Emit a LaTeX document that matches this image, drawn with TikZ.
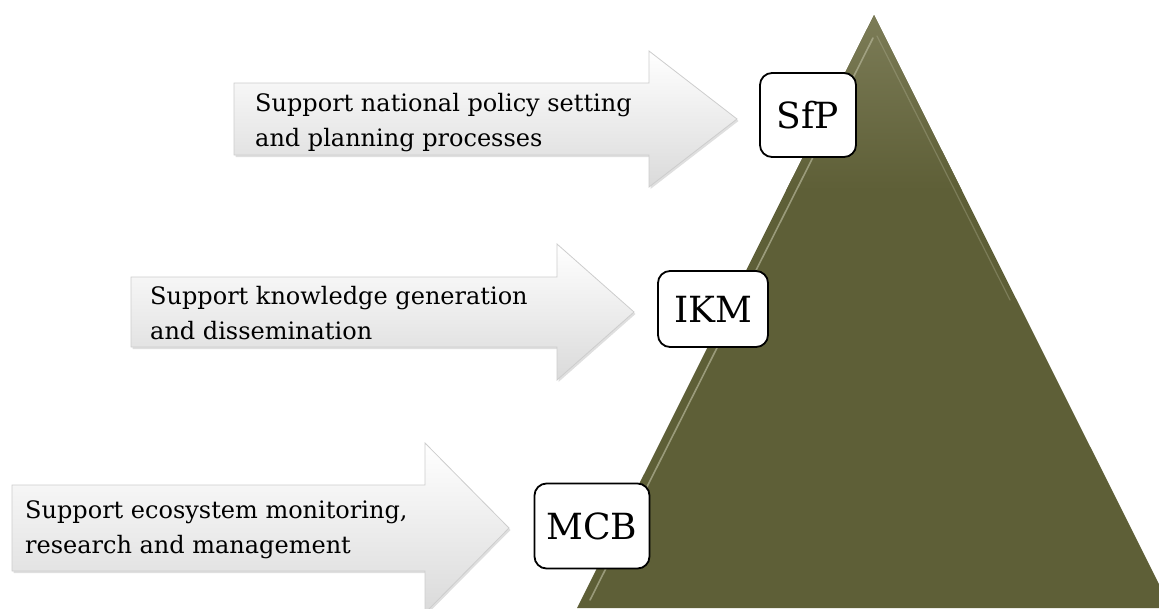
\documentclass[tikz,border=0pt]{standalone}
\usepackage{fontspec}
\setmainfont{DejaVu Serif}
\usetikzlibrary{positioning,shadows}

\definecolor{pyrbase}{HTML}{5E5F37}
\definecolor{pyrtop}{HTML}{7C7C57}
\definecolor{pyrhi}{HTML}{B4B497}
\definecolor{arrgray}{HTML}{DADADA}
\definecolor{arrline}{HTML}{CDCDCD}

\begin{document}
\begin{tikzpicture}[x=1pt,y=-1pt,
bigarrow/.style={
  top color=white,
  bottom color=arrgray,
  draw=arrline,
  line width=0.8pt,
  drop shadow={shadow xshift=1.5pt,shadow yshift=-2pt,opacity=0.25}
  },
label/.style={
  anchor=west,
  align=left,
  inner sep=0pt,
  font=\fontsize{24}{35}\selectfont
  },
tag/.style={
  draw,
  fill=white,
  rounded corners=12pt,
  line width=1.8pt,
  inner sep=0pt,
  font=\fontsize{36}{40}\selectfont
  },
]
\useasboundingbox (0,0) rectangle (1159,608);

% pyramid
\coordinate (apex) at (874,15);
\coordinate (baseL) at (577,608);
\coordinate (baseR) at (1171,608);
\fill[pyrbase] (apex) -- (baseL) -- (baseR) -- cycle;
\begin{scope}
  \clip (apex) -- (baseL) -- (baseR) -- cycle;
  \shade[top color=pyrtop,bottom color=pyrbase] (560,15) rectangle (1180,190);
\end{scope}
\draw[pyrhi,line width=1.6pt,opacity=0.7,line cap=round] (873,38) -- (590,600);
\draw[pyrhi,line width=1.2pt,opacity=0.35,line cap=round] (877,36) -- (1010,300);

% arrows
\foreach \nm/\xl/\xh/\xt/\yc/\bh/\hh in {top/234/649/737/119/36/68, mid/131/557/634/312/35/68, bot/12/425/509/528/43/85}
  \path[bigarrow] (\xl,\yc-\bh) -- (\xh,\yc-\bh) -- (\xh,\yc-\hh) -- (\xt,\yc)
    -- (\xh,\yc+\hh) -- (\xh,\yc+\bh) -- (\xl,\yc+\bh) -- cycle;

\node[label] (ltop) at (255,123) {Support national policy setting\\and planning processes};
\node[label] (lmid) at (150,313) {Support knowledge generation\\and dissemination};
\node[label] (lbot) at (25,530) {Support ecosystem monitoring,\\research and management};

% boxes
\node[tag,minimum width=96pt,minimum height=84pt] (sfp) at (808,115) {SfP};
\node[tag,minimum width=110pt,minimum height=76pt] (ikm) at (713,309) {IKM};
\node[tag,minimum width=115pt,minimum height=85pt] (mcb) at (592,526) {MCB};

\end{tikzpicture}
\end{document}
